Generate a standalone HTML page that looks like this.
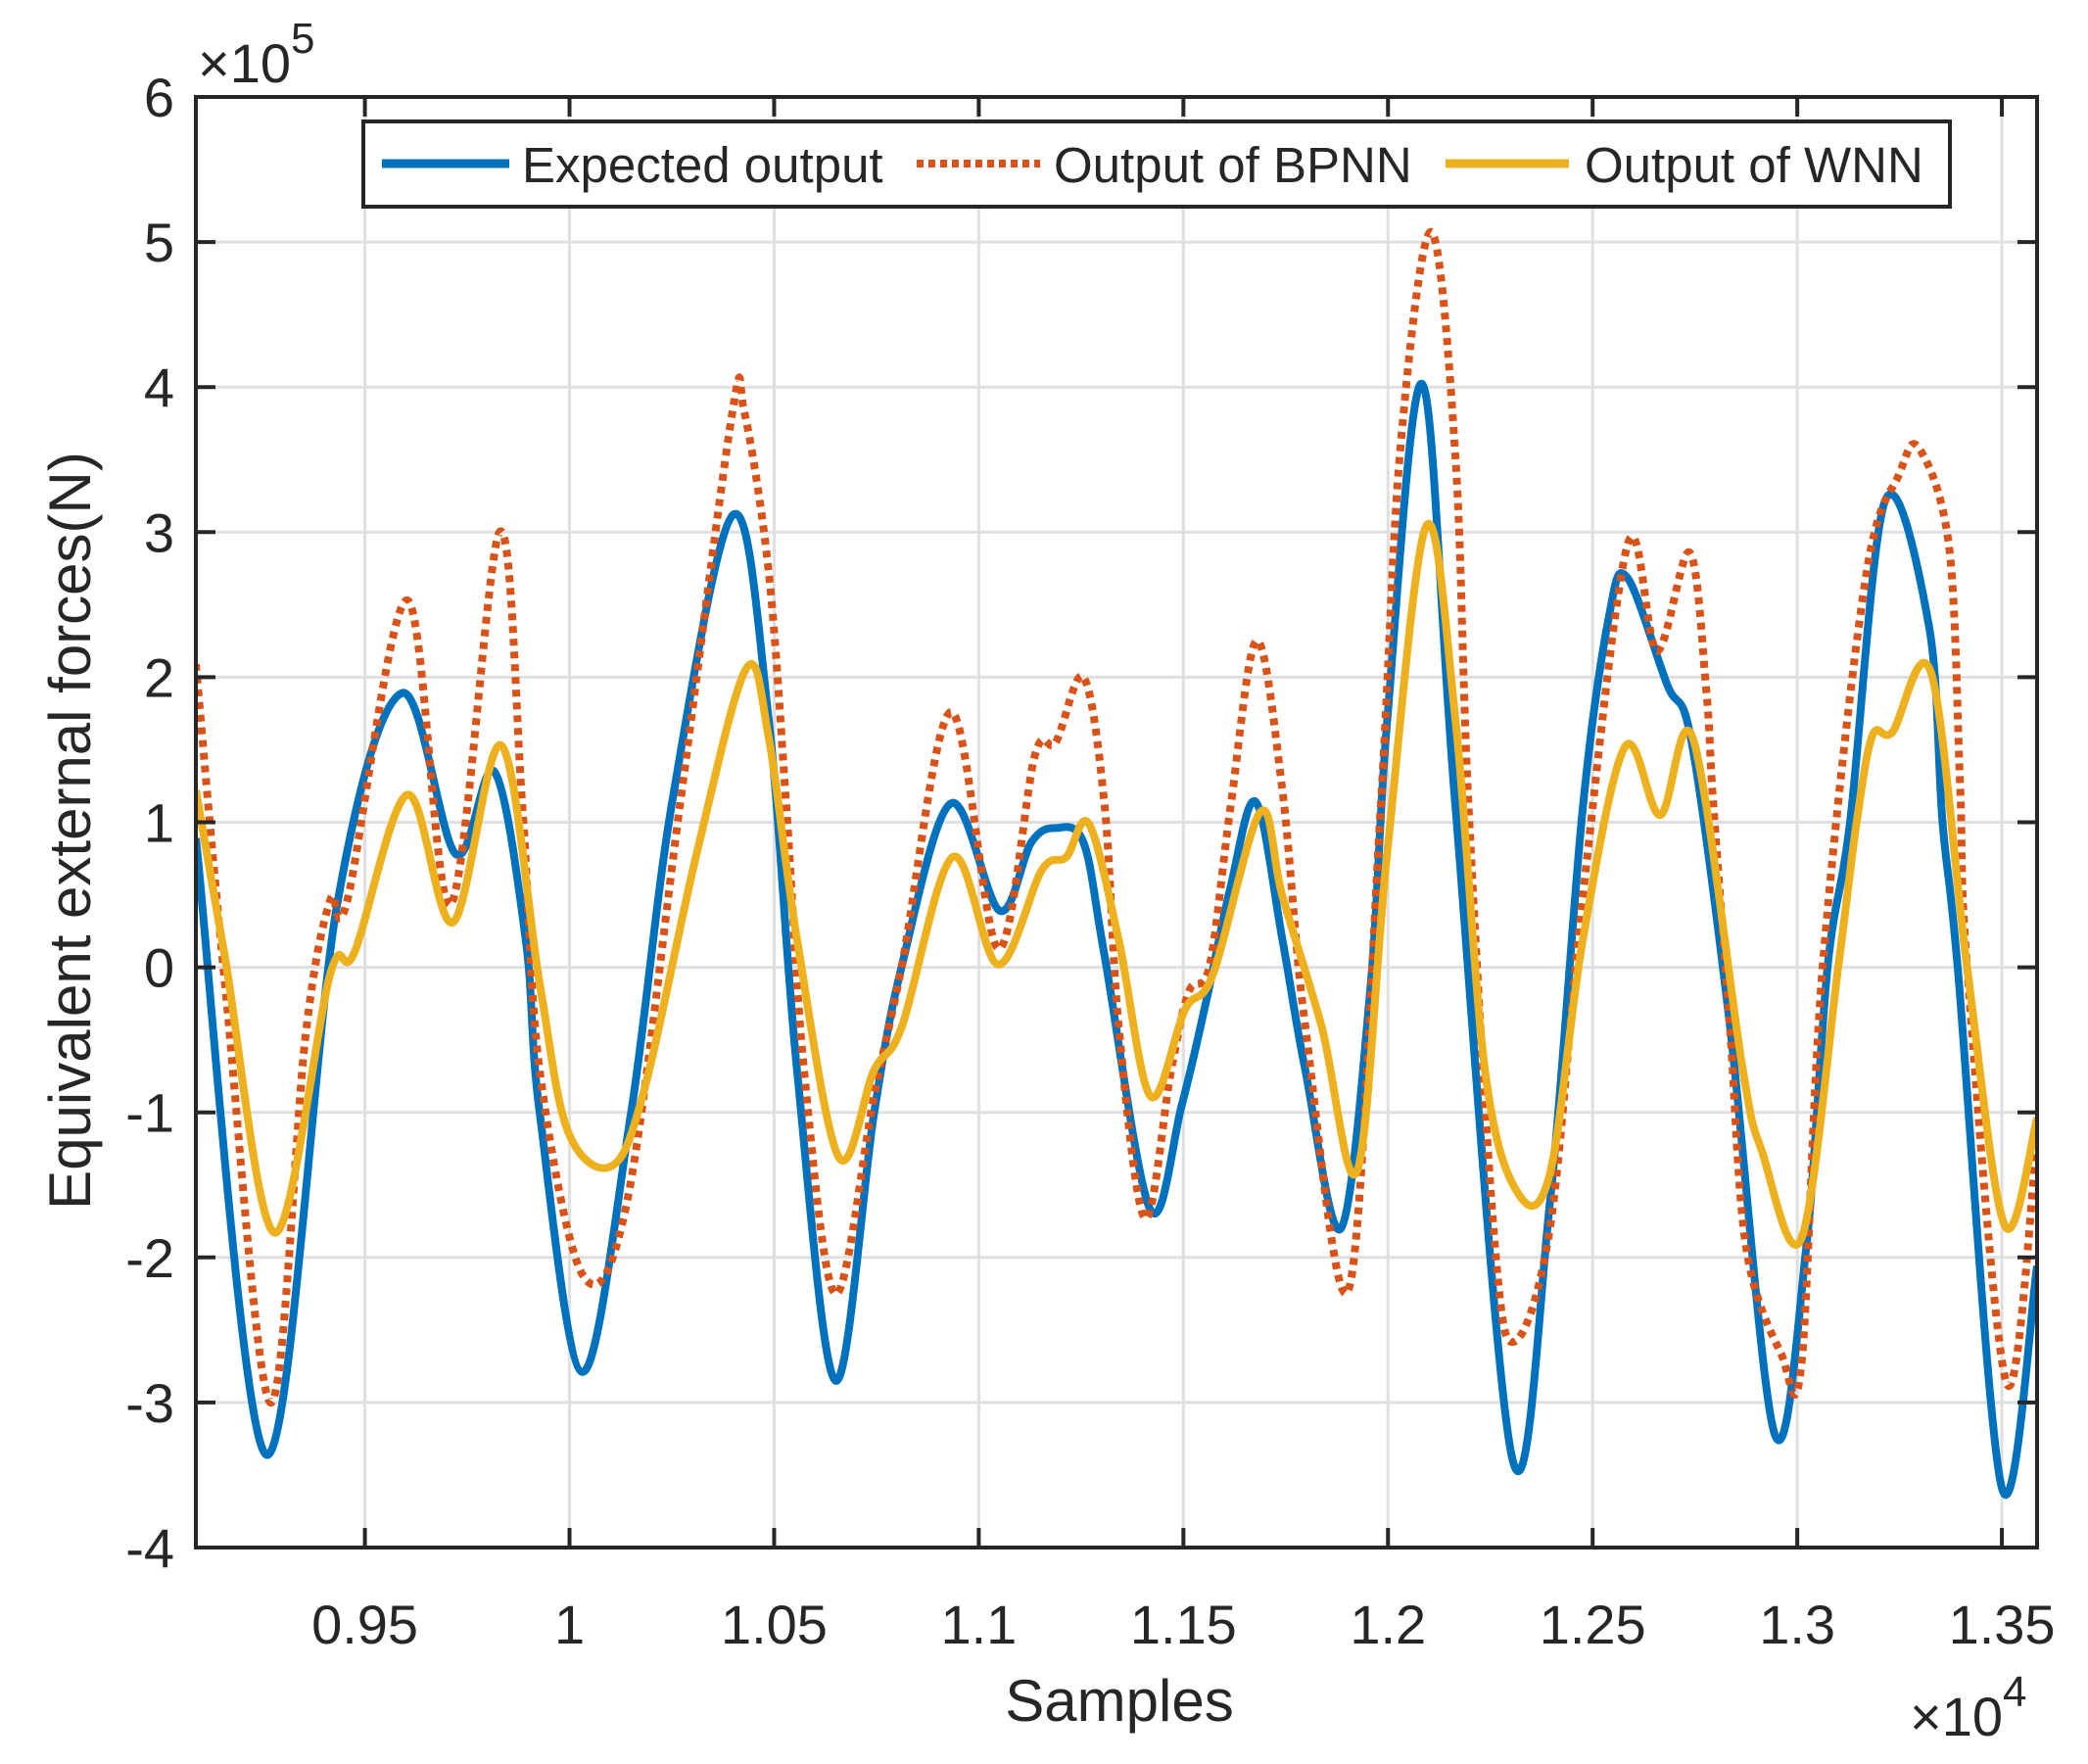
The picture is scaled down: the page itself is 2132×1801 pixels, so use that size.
<!DOCTYPE html>
<html><head><meta charset="utf-8"><style>
html,body{margin:0;padding:0;background:#fff}
svg text{font-family:"Liberation Sans",Arial,sans-serif;fill:#262626}
</style></head><body>
<svg id="chart" width="2132" height="1796" viewBox="0 0 2132 1796" xmlns="http://www.w3.org/2000/svg">
<defs><clipPath id="clip"><rect x="200" y="99" width="1880" height="1481"/></clipPath></defs>
<rect width="2132" height="1796" fill="#fff"/>
<g id="grid"></g>
<g id="series" clip-path="url(#clip)"></g>
<rect x="200" y="99" width="1880" height="1481" fill="none" stroke="#262626" stroke-width="4"/>
<g id="ticks"></g>
<text x="202" y="84" font-size="56">×10<tspan font-size="44" dy="-30">5</tspan></text>
<text x="1950" y="1772" font-size="56">×10<tspan font-size="44" dy="-30">4</tspan></text>
<text x="1143" y="1757" font-size="60" text-anchor="middle">Samples</text>
<text transform="translate(92,848) rotate(-90)" font-size="60" text-anchor="middle">Equivalent external forces(N)</text>
<g>
<rect x="371" y="124" width="1620" height="87" fill="#fff" stroke="#262626" stroke-width="4"/>
<g>
<line x1="390" y1="167" x2="520" y2="167" stroke="#0072BD" stroke-width="9"/>
<text x="533" y="186" font-size="51">Expected output</text></g>
<g>
<line x1="936" y1="167" x2="1062" y2="167" stroke="#D95319" stroke-width="8" stroke-dasharray="7 5"/>
<text x="1076" y="186" font-size="51">Output of BPNN</text></g>
<g>
<line x1="1476" y1="167" x2="1602" y2="167" stroke="#EDB120" stroke-width="9"/>
<text x="1618" y="186" font-size="51">Output of WNN</text></g>
</g>
</svg>
<script>
const xTicks=[9500,10000,10500,11000,11500,12000,12500,13000,13500];
const xTickLabels=["0.95","1","1.05","1.1","1.15","1.2","1.25","1.3","1.35"];
const yTicks=[-4,-3,-2,-1,0,1,2,3,4,5,6];
const yTickLabels=["-4","-3","-2","-1","0","1","2","3","4","5","6"];
const expX=[9087,9259,9432,9590,9722,9816,9893,9927,10032,10150,10252,10400,10487,10556,10650,10744,10812,10932,11051,11128,11188,11256,11308,11419,11496,11556,11615,11677,11742,11798,11885,11958,11998,12084,12165,12304,12396,12476,12540,12584,12682,12742,12835,12945,13022,13074,13129,13215,13322,13355,13392,13500,13586];
const expY=[0.89,-3.36,0.43,1.89,0.78,1.35,0.19,-1.0,-2.79,-1.01,1.16,3.12,1.7,-0.71,-2.85,-1.01,0.01,1.13,0.39,0.86,0.96,0.86,0.07,-1.67,-0.95,-0.23,0.55,1.14,0.19,-0.71,-1.8,-0.11,1.7,4.02,1.1,-3.39,-1.61,1.1,2.42,2.69,1.95,1.55,-0.39,-3.22,-1.93,0.0,1.0,3.22,2.35,1.0,0.0,-3.59,-2.06];
const bpX=[9087,9158,9269,9355,9415,9457,9603,9709,9829,9885,9927,10034,10141,10269,10397,10427,10487,10530,10573,10650,10744,10812,10932,11047,11137,11188,11256,11308,11342,11406,11470,11513,11564,11615,11679,11742,11798,11904,11982,12030,12105,12165,12197,12261,12309,12396,12476,12586,12657,12737,12778,12794,12835,12875,12960,13010,13062,13167,13249,13297,13371,13398,13415,13512,13586];
const bpY=[2.09,-0.11,-3.0,-0.47,0.46,0.46,2.53,0.43,3.0,1.1,-0.71,-2.13,-1.61,1.1,3.81,3.83,2.72,1.1,-0.71,-2.25,-0.89,0.01,1.76,0.13,1.46,1.55,2.0,1.1,-0.41,-1.73,-0.71,-0.17,0.01,1.1,2.25,1.22,-0.41,-2.22,1.1,3.57,5.07,3.51,1.1,-1.91,-2.58,-1.79,0.49,2.92,2.18,2.86,1.9,1.16,-0.39,-1.93,-2.66,-2.74,0.0,2.68,3.4,3.58,2.9,1.25,0.0,-2.87,-1.19];
const wnX=[9087,9158,9280,9415,9474,9604,9715,9833,9927,9996,10103,10184,10312,10432,10487,10556,10658,10744,10812,10936,11047,11154,11214,11269,11342,11420,11504,11572,11688,11742,11838,11925,11998,12093,12165,12237,12316,12395,12476,12579,12665,12746,12866,12914,13010,13100,13145,13184,13232,13327,13415,13507,13586];
const wnY=[1.22,0.07,-1.83,-0.05,0.1,1.19,0.31,1.53,-0.11,-1.13,-1.37,-0.83,0.8,2.06,1.58,0.19,-1.31,-0.71,-0.41,0.76,0.02,0.67,0.76,0.99,0.19,-0.89,-0.29,-0.05,1.07,0.49,-0.41,-1.4,0.79,3.04,1.7,-0.71,-1.55,-1.43,0.19,1.52,1.05,1.57,-0.69,-1.27,-1.87,0.0,1.0,1.6,1.62,2.03,0.0,-1.78,-1.04];

const X0=200,X1=2080,Y0=99,Y1=1580,XMIN=9087,XMAX=13586,YMIN=-4,YMAX=6;
function xs(v){return X0+(v-XMIN)/(XMAX-XMIN)*(X1-X0);}
function ys(v){return Y0+(YMAX-v)/(YMAX-YMIN)*(Y1-Y0);}
const NS="http://www.w3.org/2000/svg";
function mk(tag,attrs,parent){const e=document.createElementNS(NS,tag);for(const k in attrs)e.setAttribute(k,attrs[k]);parent.appendChild(e);return e;}
const grid=document.getElementById('grid'),ticks=document.getElementById('ticks'),series=document.getElementById('series');
xTicks.forEach((t,i)=>{const x=xs(t);
 const g=mk('line',{x1:x,y1:Y0,x2:x,y2:Y1,stroke:'#dfdfdf','stroke-width':3},grid);
 
 
 mk('line',{x1:x,y1:Y1,x2:x,y2:Y1-20,stroke:'#262626','stroke-width':4},ticks);
 mk('line',{x1:x,y1:Y0,x2:x,y2:Y0+20,stroke:'#262626','stroke-width':4},ticks);
 const tx=mk('text',{x:x,y:1678,'font-size':56,'text-anchor':'middle'},ticks);tx.textContent=xTickLabels[i];
 
 
});
yTicks.forEach((t,i)=>{const y=ys(t);
 if(t>YMIN&&t<YMAX){const g=mk('line',{x1:X0,y1:y,x2:X1,y2:y,stroke:'#dfdfdf','stroke-width':3},grid);
 
 }
 mk('line',{x1:X0,y1:y,x2:X0+20,y2:y,stroke:'#262626','stroke-width':4},ticks);
 mk('line',{x1:X1,y1:y,x2:X1-20,y2:y,stroke:'#262626','stroke-width':4},ticks);
 const tx=mk('text',{x:178,y:y+20,'font-size':56,'text-anchor':'end'},ticks);tx.textContent=yTickLabels[i];
 
 
});
function pathFor(xa,ya){const p=xa.map((v,i)=>[xs(v),ys(ya[i])]);let d='M'+p[0][0]+','+p[0][1];
 for(let i=0;i<p.length-1;i++){const p0=p[Math.max(0,i-1)],p1=p[i],p2=p[i+1],p3=p[Math.min(p.length-1,i+2)];
  const c1=[p1[0]+(p2[0]-p0[0])/6,p1[1]+(p2[1]-p0[1])/6],c2=[p2[0]-(p3[0]-p1[0])/6,p2[1]-(p3[1]-p1[1])/6];
  d+=' C'+c1[0]+','+c1[1]+' '+c2[0]+','+c2[1]+' '+p2[0]+','+p2[1];}
 return d;}
const e1=mk('path',{d:pathFor(expX,expY),fill:'none',stroke:'#0072BD','stroke-width':8,'stroke-linejoin':'round'},series);


const e2=mk('path',{d:pathFor(bpX,bpY),fill:'none',stroke:'#D95319','stroke-width':8,'stroke-dasharray':'7 6'},series);


const e3=mk('path',{d:pathFor(wnX,wnY),fill:'none',stroke:'#EDB120','stroke-width':8,'stroke-linejoin':'round'},series);


</script>
</body></html>
